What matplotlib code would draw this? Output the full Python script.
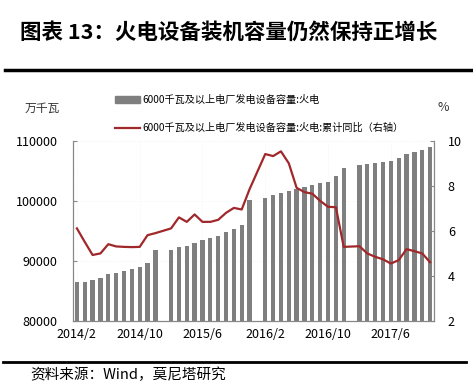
import numpy as np
import matplotlib
matplotlib.use("Agg")
import matplotlib.pyplot as plt
from matplotlib.lines import Line2D

plt.rcParams['font.family'] = ['Noto Sans CJK SC', 'DejaVu Sans']

# monthly, 2014/2 .. 2017/11 (January has no data)
months = ["2014/2", "2014/3", "2014/4", "2014/5", "2014/6", "2014/7", "2014/8", "2014/9",
          "2014/10", "2014/11", "2014/12", "2015/1",
          "2015/2", "2015/3", "2015/4", "2015/5", "2015/6", "2015/7", "2015/8", "2015/9",
          "2015/10", "2015/11", "2015/12", "2016/1",
          "2016/2", "2016/3", "2016/4", "2016/5", "2016/6", "2016/7", "2016/8", "2016/9",
          "2016/10", "2016/11", "2016/12", "2017/1",
          "2017/2", "2017/3", "2017/4", "2017/5", "2017/6", "2017/7", "2017/8", "2017/9",
          "2017/10", "2017/11"]

capacity = [86500, 86560, 86850, 87170, 87900, 88060, 88300, 88700,
            89000, 89730, 91880, np.nan,
            91760, 92380, 92450, 93060, 93480, 93780, 94120, 94780,
            95280, 96000, 100080, np.nan,
            100500, 101000, 101330, 101620, 102000, 102230, 102570, 102900,
            103170, 104070, 105450, np.nan,
            105900, 106170, 106280, 106450, 106620, 107070, 107830, 108170,
            108450, 108900]

yoy = [6.11, 5.51, 4.93, 5.00, 5.41, 5.31, 5.29, 5.28,
       5.29, 5.81, 5.90, np.nan,
       6.11, 6.60, 6.40, 6.73, 6.40, 6.40, 6.49, 6.80,
       7.02, 6.95, 7.85, np.nan,
       9.41, 9.32, 9.53, 9.00, 7.91, 7.72, 7.65, 7.33,
       7.07, 7.05, 5.29, np.nan,
       5.32, 5.00, 4.85, 4.74, 4.55, 4.70, 5.19, 5.10,
       5.00, 4.61]

bar_label = "6000千瓦及以上电厂发电设备容量:火电"
line_label = "6000千瓦及以上电厂发电设备容量:火电:累计同比（右轴）"

bar_color = '#7f7f7f'
line_color = '#a0282a'
axis_color = '#888888'

x = np.arange(len(months))
cap = np.array(capacity, dtype=float)
rate = np.array(yoy, dtype=float)
ok = ~np.isnan(rate)

fig = plt.figure(figsize=(4.73, 3.91), dpi=100)
ax = fig.add_axes([0.1543, 0.179, 0.7632, 0.461])
ax2 = ax.twinx()

ax.bar(x, np.nan_to_num(cap - 80000), bottom=80000, width=0.55, color=bar_color)
ax2.plot(x[ok], rate[ok], color=line_color, lw=1.6)

ax.set_xlim(-0.5, len(months) - 0.5)
ax.set_ylim(80000, 110000)
ax2.set_ylim(2, 10)
ax.set_yticks([80000, 90000, 100000, 110000])
ax2.set_yticks([2, 4, 6, 8, 10])
ax.set_xticks(x[::8])
ax.set_xticklabels(months[::8])

for a in (ax, ax2):
    for s in a.spines.values():
        s.set_visible(False)
ax.spines['left'].set_visible(True)
ax.spines['bottom'].set_visible(True)
ax2.spines['right'].set_visible(True)
for s in (ax.spines['left'], ax.spines['bottom'], ax2.spines['right']):
    s.set_color(axis_color)
    s.set_linewidth(0.9)

ax.grid(True, color='#f2f2f2', lw=0.6, ls=':')
ax.set_axisbelow(True)
ax.tick_params(axis='y', direction='in', length=3, color=axis_color, labelsize=9, pad=11)
ax.tick_params(axis='x', length=0, labelsize=9, pad=5)
ax2.tick_params(axis='y', direction='in', length=3, color=axis_color, labelsize=9, pad=10)

fig.text(0.09, 0.724, "万千瓦", fontsize=8.5, ha='center', va='center', color='#333333')
fig.text(0.937, 0.726, "%", fontsize=9, ha='center', va='center', color='#333333')

handles = [plt.Rectangle((0, 0), 1, 1, color=bar_color),
           Line2D([], [], color=line_color, lw=1.6)]
fig.legend(handles, [bar_label, line_label], loc='upper left',
           bbox_to_anchor=(0.243, 0.757), frameon=False, fontsize=7.3,
           handlelength=2.5, handleheight=0.6, handletextpad=0.25,
           labelspacing=1.75, borderaxespad=0, borderpad=0)

fig.text(0.042, 0.918, "图表 13：火电设备装机容量仍然保持正增长", fontsize=15.5,
         fontweight='bold', ha='left', va='center')
fig.add_artist(Line2D([0.01, 1.0], [0.821, 0.821], color='black', lw=2.5))
fig.add_artist(Line2D([0.006, 0.985], [0.074, 0.074], color='black', lw=2.0))
fig.text(0.063, 0.041, "资料来源：Wind，莫尼塔研究", fontsize=10.5, ha='left', va='center')

fig.savefig("out.png", dpi=100)
